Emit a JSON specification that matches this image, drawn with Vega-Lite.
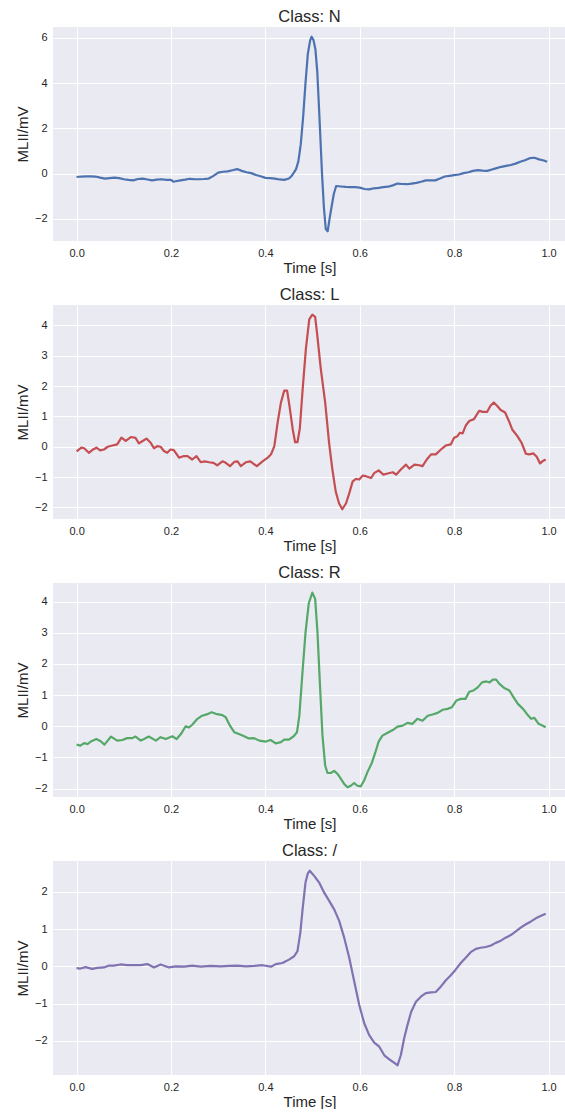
{
  "$schema": "https://vega.github.io/schema/vega-lite/v6.json",
  "background": "white",
  "padding": {"left": 15, "top": 8, "right": 0, "bottom": 0},
  "spacing": 11,
  "config": {
    "font": "Liberation Sans",
    "view": {"fill": "#EAEAF2", "stroke": null},
    "axis": {
      "domain": false,
      "ticks": false,
      "grid": true,
      "gridColor": "#FFFFFF",
      "gridWidth": 1,
      "gridOpacity": 1,
      "labelFont": "Liberation Sans",
      "labelFontSize": 11,
      "labelColor": "#262626",
      "labelPadding": 6,
      "titleFont": "Liberation Sans",
      "titleFontSize": 15,
      "titleFontWeight": "normal",
      "titleColor": "#262626",
      "titlePadding": 4
    },
    "axisX": {"titlePadding": 2},
    "title": {"font": "Liberation Sans", "fontSize": 16.5, "fontWeight": "normal", "color": "#262626", "offset": 2}
  },
  "data": {
    "values": [
      {"c":"N","t":0,"v":-0.15},{"c":"N","t":0.01,"v":-0.13},{"c":"N","t":0.02,"v":-0.12},{"c":"N","t":0.03,"v":-0.12},{"c":"N","t":0.04,"v":-0.13},{"c":"N","t":0.05,"v":-0.18},{"c":"N","t":0.06,"v":-0.22},{"c":"N","t":0.07,"v":-0.2},{"c":"N","t":0.08,"v":-0.18},{"c":"N","t":0.09,"v":-0.2},{"c":"N","t":0.1,"v":-0.25},{"c":"N","t":0.11,"v":-0.28},{"c":"N","t":0.12,"v":-0.3},{"c":"N","t":0.13,"v":-0.24},{"c":"N","t":0.14,"v":-0.22},{"c":"N","t":0.15,"v":-0.26},{"c":"N","t":0.16,"v":-0.3},{"c":"N","t":0.17,"v":-0.27},{"c":"N","t":0.18,"v":-0.25},{"c":"N","t":0.19,"v":-0.28},{"c":"N","t":0.2,"v":-0.28},{"c":"N","t":0.205,"v":-0.36},{"c":"N","t":0.21,"v":-0.34},{"c":"N","t":0.22,"v":-0.3},{"c":"N","t":0.23,"v":-0.27},{"c":"N","t":0.24,"v":-0.23},{"c":"N","t":0.25,"v":-0.25},{"c":"N","t":0.26,"v":-0.25},{"c":"N","t":0.27,"v":-0.24},{"c":"N","t":0.28,"v":-0.22},{"c":"N","t":0.29,"v":-0.1},{"c":"N","t":0.3,"v":0.04},{"c":"N","t":0.31,"v":0.08},{"c":"N","t":0.32,"v":0.1},{"c":"N","t":0.33,"v":0.15},{"c":"N","t":0.34,"v":0.2},{"c":"N","t":0.35,"v":0.12},{"c":"N","t":0.36,"v":0.06},{"c":"N","t":0.37,"v":0.02},{"c":"N","t":0.38,"v":-0.06},{"c":"N","t":0.39,"v":-0.12},{"c":"N","t":0.4,"v":-0.19},{"c":"N","t":0.41,"v":-0.2},{"c":"N","t":0.42,"v":-0.22},{"c":"N","t":0.43,"v":-0.26},{"c":"N","t":0.44,"v":-0.28},{"c":"N","t":0.45,"v":-0.22},{"c":"N","t":0.455,"v":-0.12},{"c":"N","t":0.46,"v":0.03},{"c":"N","t":0.465,"v":0.2},{"c":"N","t":0.47,"v":0.55},{"c":"N","t":0.475,"v":1.3},{"c":"N","t":0.48,"v":2.5},{"c":"N","t":0.485,"v":4.0},{"c":"N","t":0.49,"v":5.3},{"c":"N","t":0.495,"v":5.9},{"c":"N","t":0.498,"v":6.05},{"c":"N","t":0.502,"v":5.9},{"c":"N","t":0.506,"v":5.5},{"c":"N","t":0.51,"v":4.5},{"c":"N","t":0.515,"v":2.3},{"c":"N","t":0.52,"v":0.0},{"c":"N","t":0.524,"v":-1.5},{"c":"N","t":0.528,"v":-2.45},{"c":"N","t":0.532,"v":-2.55},{"c":"N","t":0.536,"v":-2.0},{"c":"N","t":0.54,"v":-1.5},{"c":"N","t":0.545,"v":-0.9},{"c":"N","t":0.55,"v":-0.55},{"c":"N","t":0.56,"v":-0.57},{"c":"N","t":0.57,"v":-0.59},{"c":"N","t":0.58,"v":-0.6},{"c":"N","t":0.59,"v":-0.6},{"c":"N","t":0.6,"v":-0.62},{"c":"N","t":0.61,"v":-0.68},{"c":"N","t":0.62,"v":-0.7},{"c":"N","t":0.63,"v":-0.65},{"c":"N","t":0.64,"v":-0.63},{"c":"N","t":0.65,"v":-0.6},{"c":"N","t":0.66,"v":-0.58},{"c":"N","t":0.67,"v":-0.52},{"c":"N","t":0.68,"v":-0.44},{"c":"N","t":0.69,"v":-0.46},{"c":"N","t":0.7,"v":-0.47},{"c":"N","t":0.71,"v":-0.44},{"c":"N","t":0.72,"v":-0.41},{"c":"N","t":0.73,"v":-0.36},{"c":"N","t":0.74,"v":-0.3},{"c":"N","t":0.75,"v":-0.3},{"c":"N","t":0.76,"v":-0.3},{"c":"N","t":0.77,"v":-0.22},{"c":"N","t":0.78,"v":-0.13},{"c":"N","t":0.79,"v":-0.1},{"c":"N","t":0.8,"v":-0.07},{"c":"N","t":0.81,"v":-0.04},{"c":"N","t":0.82,"v":0.02},{"c":"N","t":0.83,"v":0.06},{"c":"N","t":0.84,"v":0.12},{"c":"N","t":0.85,"v":0.15},{"c":"N","t":0.86,"v":0.13},{"c":"N","t":0.87,"v":0.12},{"c":"N","t":0.88,"v":0.18},{"c":"N","t":0.89,"v":0.24},{"c":"N","t":0.9,"v":0.3},{"c":"N","t":0.91,"v":0.34},{"c":"N","t":0.92,"v":0.38},{"c":"N","t":0.93,"v":0.44},{"c":"N","t":0.94,"v":0.52},{"c":"N","t":0.95,"v":0.59},{"c":"N","t":0.96,"v":0.68},{"c":"N","t":0.97,"v":0.7},{"c":"N","t":0.98,"v":0.63},{"c":"N","t":0.99,"v":0.58},{"c":"N","t":0.997,"v":0.52},

      {"c":"L","t":0,"v":-0.15},{"c":"L","t":0.01,"v":-0.03},{"c":"L","t":0.016,"v":-0.05},{"c":"L","t":0.026,"v":-0.2},{"c":"L","t":0.035,"v":-0.09},{"c":"L","t":0.042,"v":-0.03},{"c":"L","t":0.05,"v":-0.12},{"c":"L","t":0.058,"v":-0.09},{"c":"L","t":0.066,"v":0.0},{"c":"L","t":0.076,"v":0.04},{"c":"L","t":0.086,"v":0.08},{"c":"L","t":0.095,"v":0.3},{"c":"L","t":0.104,"v":0.19},{"c":"L","t":0.115,"v":0.32},{"c":"L","t":0.125,"v":0.29},{"c":"L","t":0.132,"v":0.11},{"c":"L","t":0.139,"v":0.18},{"c":"L","t":0.148,"v":0.27},{"c":"L","t":0.157,"v":0.13},{"c":"L","t":0.164,"v":-0.05},{"c":"L","t":0.171,"v":0.02},{"c":"L","t":0.178,"v":0.0},{"c":"L","t":0.185,"v":-0.14},{"c":"L","t":0.192,"v":-0.2},{"c":"L","t":0.199,"v":-0.09},{"c":"L","t":0.206,"v":-0.11},{"c":"L","t":0.217,"v":-0.36},{"c":"L","t":0.226,"v":-0.31},{"c":"L","t":0.235,"v":-0.31},{"c":"L","t":0.245,"v":-0.42},{"c":"L","t":0.254,"v":-0.31},{"c":"L","t":0.263,"v":-0.51},{"c":"L","t":0.271,"v":-0.48},{"c":"L","t":0.281,"v":-0.51},{"c":"L","t":0.29,"v":-0.53},{"c":"L","t":0.298,"v":-0.61},{"c":"L","t":0.309,"v":-0.48},{"c":"L","t":0.316,"v":-0.53},{"c":"L","t":0.325,"v":-0.64},{"c":"L","t":0.334,"v":-0.5},{"c":"L","t":0.341,"v":-0.48},{"c":"L","t":0.348,"v":-0.64},{"c":"L","t":0.359,"v":-0.51},{"c":"L","t":0.368,"v":-0.48},{"c":"L","t":0.382,"v":-0.64},{"c":"L","t":0.394,"v":-0.48},{"c":"L","t":0.405,"v":-0.36},{"c":"L","t":0.412,"v":-0.25},{"c":"L","t":0.419,"v":0.02},{"c":"L","t":0.426,"v":0.8},{"c":"L","t":0.433,"v":1.46},{"c":"L","t":0.44,"v":1.85},{"c":"L","t":0.446,"v":1.85},{"c":"L","t":0.451,"v":1.35},{"c":"L","t":0.458,"v":0.57},{"c":"L","t":0.463,"v":0.15},{"c":"L","t":0.468,"v":0.15},{"c":"L","t":0.473,"v":0.6},{"c":"L","t":0.479,"v":1.9},{"c":"L","t":0.486,"v":3.25},{"c":"L","t":0.493,"v":4.2},{"c":"L","t":0.4995,"v":4.35},{"c":"L","t":0.5055,"v":4.28},{"c":"L","t":0.51,"v":3.67},{"c":"L","t":0.5175,"v":2.56},{"c":"L","t":0.5267,"v":1.46},{"c":"L","t":0.535,"v":0.13},{"c":"L","t":0.542,"v":-0.75},{"c":"L","t":0.549,"v":-1.47},{"c":"L","t":0.556,"v":-1.86},{"c":"L","t":0.563,"v":-2.06},{"c":"L","t":0.571,"v":-1.86},{"c":"L","t":0.578,"v":-1.52},{"c":"L","t":0.585,"v":-1.14},{"c":"L","t":0.592,"v":-1.06},{"c":"L","t":0.599,"v":-1.08},{"c":"L","t":0.606,"v":-0.95},{"c":"L","t":0.613,"v":-0.97},{"c":"L","t":0.624,"v":-1.03},{"c":"L","t":0.631,"v":-0.86},{"c":"L","t":0.64,"v":-0.78},{"c":"L","t":0.65,"v":-0.92},{"c":"L","t":0.659,"v":-0.88},{"c":"L","t":0.67,"v":-0.84},{"c":"L","t":0.677,"v":-0.92},{"c":"L","t":0.687,"v":-0.75},{"c":"L","t":0.698,"v":-0.59},{"c":"L","t":0.705,"v":-0.72},{"c":"L","t":0.716,"v":-0.59},{"c":"L","t":0.726,"v":-0.61},{"c":"L","t":0.733,"v":-0.64},{"c":"L","t":0.742,"v":-0.42},{"c":"L","t":0.751,"v":-0.25},{"c":"L","t":0.761,"v":-0.25},{"c":"L","t":0.772,"v":-0.09},{"c":"L","t":0.782,"v":0.04},{"c":"L","t":0.793,"v":0.08},{"c":"L","t":0.8,"v":0.3},{"c":"L","t":0.807,"v":0.35},{"c":"L","t":0.812,"v":0.46},{"c":"L","t":0.818,"v":0.44},{"c":"L","t":0.825,"v":0.71},{"c":"L","t":0.832,"v":0.85},{"c":"L","t":0.842,"v":0.91},{"c":"L","t":0.853,"v":1.18},{"c":"L","t":0.861,"v":1.15},{"c":"L","t":0.87,"v":1.15},{"c":"L","t":0.877,"v":1.35},{"c":"L","t":0.884,"v":1.46},{"c":"L","t":0.891,"v":1.35},{"c":"L","t":0.898,"v":1.22},{"c":"L","t":0.908,"v":1.13},{"c":"L","t":0.916,"v":0.85},{"c":"L","t":0.923,"v":0.57},{"c":"L","t":0.934,"v":0.35},{"c":"L","t":0.943,"v":0.13},{"c":"L","t":0.952,"v":-0.23},{"c":"L","t":0.959,"v":-0.25},{"c":"L","t":0.968,"v":-0.22},{"c":"L","t":0.975,"v":-0.33},{"c":"L","t":0.982,"v":-0.55},{"c":"L","t":0.987,"v":-0.48},{"c":"L","t":0.994,"v":-0.42},

      {"c":"R","t":0,"v":-0.59},{"c":"R","t":0.008,"v":-0.62},{"c":"R","t":0.016,"v":-0.54},{"c":"R","t":0.023,"v":-0.57},{"c":"R","t":0.03,"v":-0.49},{"c":"R","t":0.042,"v":-0.41},{"c":"R","t":0.051,"v":-0.48},{"c":"R","t":0.059,"v":-0.59},{"c":"R","t":0.073,"v":-0.33},{"c":"R","t":0.086,"v":-0.46},{"c":"R","t":0.097,"v":-0.44},{"c":"R","t":0.107,"v":-0.38},{"c":"R","t":0.118,"v":-0.38},{"c":"R","t":0.125,"v":-0.33},{"c":"R","t":0.136,"v":-0.46},{"c":"R","t":0.143,"v":-0.41},{"c":"R","t":0.153,"v":-0.33},{"c":"R","t":0.168,"v":-0.46},{"c":"R","t":0.178,"v":-0.35},{"c":"R","t":0.189,"v":-0.41},{"c":"R","t":0.203,"v":-0.32},{"c":"R","t":0.212,"v":-0.41},{"c":"R","t":0.221,"v":-0.25},{"c":"R","t":0.231,"v":0.0},{"c":"R","t":0.238,"v":-0.04},{"c":"R","t":0.245,"v":0.05},{"c":"R","t":0.256,"v":0.24},{"c":"R","t":0.266,"v":0.34},{"c":"R","t":0.277,"v":0.39},{"c":"R","t":0.286,"v":0.45},{"c":"R","t":0.295,"v":0.4},{"c":"R","t":0.309,"v":0.36},{"c":"R","t":0.316,"v":0.29},{"c":"R","t":0.325,"v":0.02},{"c":"R","t":0.334,"v":-0.19},{"c":"R","t":0.344,"v":-0.25},{"c":"R","t":0.355,"v":-0.32},{"c":"R","t":0.365,"v":-0.39},{"c":"R","t":0.376,"v":-0.38},{"c":"R","t":0.387,"v":-0.46},{"c":"R","t":0.401,"v":-0.49},{"c":"R","t":0.411,"v":-0.44},{"c":"R","t":0.422,"v":-0.55},{"c":"R","t":0.433,"v":-0.51},{"c":"R","t":0.44,"v":-0.43},{"c":"R","t":0.45,"v":-0.43},{"c":"R","t":0.46,"v":-0.32},{"c":"R","t":0.467,"v":-0.19},{"c":"R","t":0.472,"v":0.34},{"c":"R","t":0.478,"v":1.6},{"c":"R","t":0.485,"v":3.0},{"c":"R","t":0.492,"v":3.95},{"c":"R","t":0.4995,"v":4.29},{"c":"R","t":0.5055,"v":4.09},{"c":"R","t":0.5104,"v":3.02},{"c":"R","t":0.5154,"v":1.41},{"c":"R","t":0.521,"v":-0.3},{"c":"R","t":0.5267,"v":-1.26},{"c":"R","t":0.5316,"v":-1.5},{"c":"R","t":0.5387,"v":-1.5},{"c":"R","t":0.5458,"v":-1.43},{"c":"R","t":0.553,"v":-1.53},{"c":"R","t":0.56,"v":-1.69},{"c":"R","t":0.567,"v":-1.85},{"c":"R","t":0.574,"v":-1.96},{"c":"R","t":0.581,"v":-1.91},{"c":"R","t":0.588,"v":-1.82},{"c":"R","t":0.595,"v":-1.91},{"c":"R","t":0.602,"v":-1.93},{"c":"R","t":0.609,"v":-1.75},{"c":"R","t":0.616,"v":-1.48},{"c":"R","t":0.626,"v":-1.16},{"c":"R","t":0.633,"v":-0.84},{"c":"R","t":0.64,"v":-0.49},{"c":"R","t":0.648,"v":-0.3},{"c":"R","t":0.659,"v":-0.21},{"c":"R","t":0.67,"v":-0.12},{"c":"R","t":0.68,"v":-0.01},{"c":"R","t":0.691,"v":0.02},{"c":"R","t":0.701,"v":0.11},{"c":"R","t":0.712,"v":0.08},{"c":"R","t":0.722,"v":0.24},{"c":"R","t":0.733,"v":0.18},{"c":"R","t":0.744,"v":0.34},{"c":"R","t":0.754,"v":0.38},{"c":"R","t":0.765,"v":0.43},{"c":"R","t":0.776,"v":0.53},{"c":"R","t":0.786,"v":0.56},{"c":"R","t":0.795,"v":0.61},{"c":"R","t":0.805,"v":0.83},{"c":"R","t":0.814,"v":0.88},{"c":"R","t":0.824,"v":0.88},{"c":"R","t":0.832,"v":1.11},{"c":"R","t":0.841,"v":1.15},{"c":"R","t":0.85,"v":1.25},{"c":"R","t":0.859,"v":1.41},{"c":"R","t":0.868,"v":1.44},{"c":"R","t":0.875,"v":1.41},{"c":"R","t":0.882,"v":1.5},{"c":"R","t":0.889,"v":1.5},{"c":"R","t":0.896,"v":1.36},{"c":"R","t":0.907,"v":1.22},{"c":"R","t":0.917,"v":1.15},{"c":"R","t":0.926,"v":0.93},{"c":"R","t":0.935,"v":0.72},{"c":"R","t":0.946,"v":0.56},{"c":"R","t":0.956,"v":0.36},{"c":"R","t":0.963,"v":0.24},{"c":"R","t":0.97,"v":0.27},{"c":"R","t":0.979,"v":0.08},{"c":"R","t":0.988,"v":0.02},{"c":"R","t":0.994,"v":-0.03},

      {"c":"/","t":0,"v":-0.05},{"c":"/","t":0.008,"v":-0.06},{"c":"/","t":0.019,"v":-0.02},{"c":"/","t":0.033,"v":-0.07},{"c":"/","t":0.044,"v":-0.04},{"c":"/","t":0.058,"v":-0.03},{"c":"/","t":0.069,"v":0.02},{"c":"/","t":0.079,"v":0.02},{"c":"/","t":0.093,"v":0.05},{"c":"/","t":0.107,"v":0.03},{"c":"/","t":0.122,"v":0.03},{"c":"/","t":0.136,"v":0.03},{"c":"/","t":0.15,"v":0.06},{"c":"/","t":0.164,"v":-0.03},{"c":"/","t":0.178,"v":0.05},{"c":"/","t":0.196,"v":-0.03},{"c":"/","t":0.21,"v":0.0},{"c":"/","t":0.228,"v":-0.01},{"c":"/","t":0.245,"v":0.02},{"c":"/","t":0.263,"v":-0.01},{"c":"/","t":0.284,"v":0.01},{"c":"/","t":0.305,"v":0.0},{"c":"/","t":0.323,"v":0.01},{"c":"/","t":0.341,"v":0.02},{"c":"/","t":0.359,"v":0.0},{"c":"/","t":0.376,"v":0.01},{"c":"/","t":0.394,"v":0.03},{"c":"/","t":0.412,"v":-0.01},{"c":"/","t":0.422,"v":0.06},{"c":"/","t":0.436,"v":0.09},{"c":"/","t":0.45,"v":0.18},{"c":"/","t":0.461,"v":0.27},{"c":"/","t":0.468,"v":0.41},{"c":"/","t":0.474,"v":0.9},{"c":"/","t":0.479,"v":1.55},{"c":"/","t":0.485,"v":2.25},{"c":"/","t":0.49,"v":2.5},{"c":"/","t":0.494,"v":2.57},{"c":"/","t":0.5034,"v":2.43},{"c":"/","t":0.514,"v":2.25},{"c":"/","t":0.5246,"v":1.98},{"c":"/","t":0.5352,"v":1.76},{"c":"/","t":0.5458,"v":1.53},{"c":"/","t":0.5564,"v":1.22},{"c":"/","t":0.567,"v":0.77},{"c":"/","t":0.5777,"v":0.23},{"c":"/","t":0.5883,"v":-0.41},{"c":"/","t":0.5989,"v":-1.04},{"c":"/","t":0.6095,"v":-1.53},{"c":"/","t":0.62,"v":-1.85},{"c":"/","t":0.6307,"v":-2.05},{"c":"/","t":0.6413,"v":-2.16},{"c":"/","t":0.652,"v":-2.39},{"c":"/","t":0.6626,"v":-2.5},{"c":"/","t":0.673,"v":-2.59},{"c":"/","t":0.68,"v":-2.66},{"c":"/","t":0.687,"v":-2.39},{"c":"/","t":0.694,"v":-1.94},{"c":"/","t":0.701,"v":-1.58},{"c":"/","t":0.709,"v":-1.22},{"c":"/","t":0.719,"v":-0.95},{"c":"/","t":0.73,"v":-0.81},{"c":"/","t":0.74,"v":-0.72},{"c":"/","t":0.751,"v":-0.7},{"c":"/","t":0.761,"v":-0.69},{"c":"/","t":0.772,"v":-0.54},{"c":"/","t":0.782,"v":-0.38},{"c":"/","t":0.793,"v":-0.24},{"c":"/","t":0.803,"v":-0.09},{"c":"/","t":0.814,"v":0.09},{"c":"/","t":0.825,"v":0.24},{"c":"/","t":0.835,"v":0.38},{"c":"/","t":0.846,"v":0.47},{"c":"/","t":0.856,"v":0.5},{"c":"/","t":0.867,"v":0.52},{"c":"/","t":0.878,"v":0.56},{"c":"/","t":0.888,"v":0.63},{"c":"/","t":0.899,"v":0.69},{"c":"/","t":0.909,"v":0.77},{"c":"/","t":0.92,"v":0.84},{"c":"/","t":0.93,"v":0.93},{"c":"/","t":0.941,"v":1.04},{"c":"/","t":0.952,"v":1.13},{"c":"/","t":0.962,"v":1.2},{"c":"/","t":0.973,"v":1.29},{"c":"/","t":0.983,"v":1.35},{"c":"/","t":0.994,"v":1.41}
    ]
  },
  "vconcat": [
    {
      "title": "Class: N",
      "width": 513, "height": 214,
      "transform": [{"filter": "datum.c === 'N'"}],
      "mark": {"type": "line", "color": "#4C72B0", "strokeWidth": 2.2, "strokeJoin": "round", "clip": true},
      "encoding": {
        "x": {"field": "t", "type": "quantitative", "scale": {"domain": [-0.05, 1.037], "nice": false, "zero": false}, "axis": {"title": "Time [s]", "values": [0, 0.2, 0.4, 0.6, 0.8, 1.0], "format": ".1f"}},
        "y": {"field": "v", "type": "quantitative", "scale": {"domain": [-2.98, 6.48], "nice": false, "zero": false}, "axis": {"title": "MLII/mV", "values": [-2, 0, 2, 4, 6], "format": "d"}}
      }
    },
    {
      "title": "Class: L",
      "width": 513, "height": 214,
      "transform": [{"filter": "datum.c === 'L'"}],
      "mark": {"type": "line", "color": "#C44E52", "strokeWidth": 2.2, "strokeJoin": "round", "clip": true},
      "encoding": {
        "x": {"field": "t", "type": "quantitative", "scale": {"domain": [-0.05, 1.037], "nice": false, "zero": false}, "axis": {"title": "Time [s]", "values": [0, 0.2, 0.4, 0.6, 0.8, 1.0], "format": ".1f"}},
        "y": {"field": "v", "type": "quantitative", "scale": {"domain": [-2.38, 4.67], "nice": false, "zero": false}, "axis": {"title": "MLII/mV", "values": [-2, -1, 0, 1, 2, 3, 4], "format": "d"}}
      }
    },
    {
      "title": "Class: R",
      "width": 513, "height": 214,
      "transform": [{"filter": "datum.c === 'R'"}],
      "mark": {"type": "line", "color": "#55A868", "strokeWidth": 2.2, "strokeJoin": "round", "clip": true},
      "encoding": {
        "x": {"field": "t", "type": "quantitative", "scale": {"domain": [-0.05, 1.037], "nice": false, "zero": false}, "axis": {"title": "Time [s]", "values": [0, 0.2, 0.4, 0.6, 0.8, 1.0], "format": ".1f"}},
        "y": {"field": "v", "type": "quantitative", "scale": {"domain": [-2.27, 4.6], "nice": false, "zero": false}, "axis": {"title": "MLII/mV", "values": [-2, -1, 0, 1, 2, 3, 4], "format": "d"}}
      }
    },
    {
      "title": "Class: /",
      "width": 513, "height": 214,
      "transform": [{"filter": "datum.c === '/'"}],
      "mark": {"type": "line", "color": "#8172B2", "strokeWidth": 2.2, "strokeJoin": "round", "clip": true},
      "encoding": {
        "x": {"field": "t", "type": "quantitative", "scale": {"domain": [-0.05, 1.037], "nice": false, "zero": false}, "axis": {"title": "Time [s]", "values": [0, 0.2, 0.4, 0.6, 0.8, 1.0], "format": ".1f"}},
        "y": {"field": "v", "type": "quantitative", "scale": {"domain": [-2.92, 2.83], "nice": false, "zero": false}, "axis": {"title": "MLII/mV", "values": [-2, -1, 0, 1, 2], "format": "d"}}
      }
    }
  ]
}
